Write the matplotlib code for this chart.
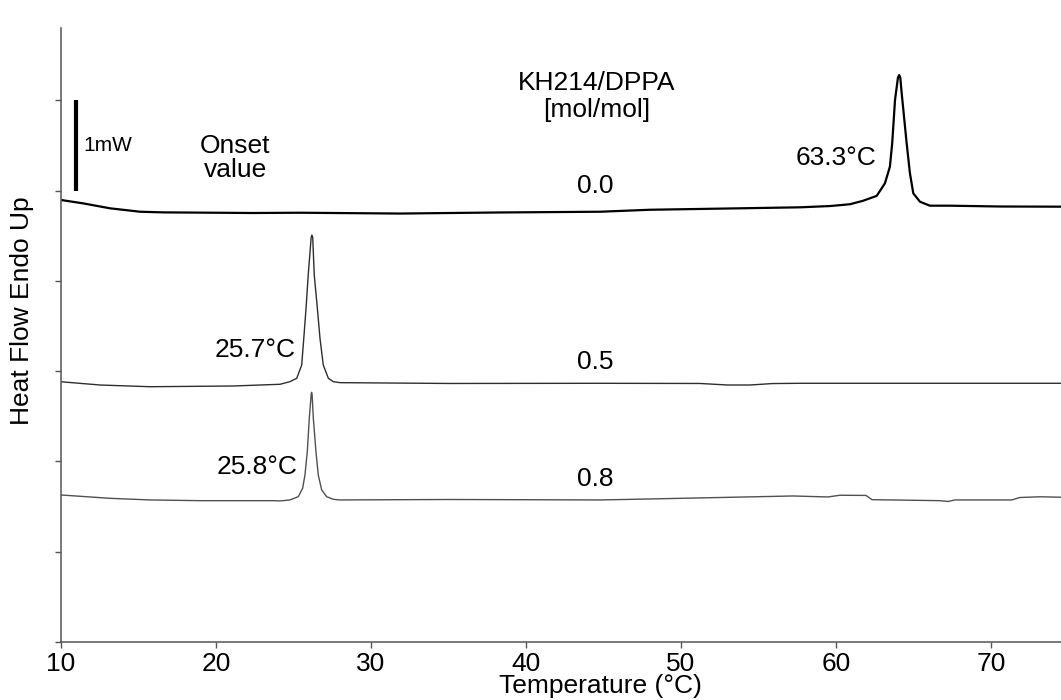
import matplotlib
matplotlib.use("Agg")
import matplotlib.pyplot as plt

plt.rcParams["font.family"] = ["Liberation Sans", "DejaVu Sans"]

# --- DSC traces, KH214/DPPA molar ratio 0.0 / 0.5 / 0.8 ---
temp_00 = [10.00, 11.42, 13.16, 15.10, 16.58, 22.39, 25.42, 31.87, 38.32, 44.77,
           48.00, 53.81, 57.68, 59.61, 60.90, 61.74, 62.63, 63.16, 63.48, 63.63,
           63.81, 64.00, 64.08, 64.15, 64.24, 64.56, 64.77, 64.99, 65.42, 66.06,
           67.35, 70.58, 74.52]
heat_00 = [4.895, 4.858, 4.803, 4.765, 4.758, 4.751, 4.754, 4.745, 4.757, 4.765,
           4.787, 4.803, 4.814, 4.828, 4.848, 4.886, 4.941, 5.080, 5.264, 5.526,
           6.002, 6.250, 6.279, 6.250, 6.080, 5.526, 5.194, 4.969, 4.876, 4.832,
           4.832, 4.823, 4.821]

temp_05 = [10.00, 12.52, 15.74, 21.10, 24.13, 24.77, 25.21, 25.53, 25.68, 25.81,
           25.95, 26.14, 26.19, 26.24, 26.34, 26.54, 26.71, 26.92, 27.25, 27.57,
           28.00, 35.10, 44.77, 51.23, 53.00, 54.45, 55.90, 57.68, 74.52]
heat_05 = [2.882, 2.846, 2.827, 2.835, 2.854, 2.883, 2.920, 3.068, 3.400, 3.695,
           4.064, 4.480, 4.507, 4.480, 4.064, 3.695, 3.363, 3.068, 2.920, 2.883,
           2.872, 2.863, 2.865, 2.863, 2.846, 2.846, 2.862, 2.865, 2.865]

temp_08 = [10.00, 13.16, 15.74, 18.97, 23.68, 24.13, 24.77, 25.31, 25.59, 25.74,
           25.89, 26.02, 26.14, 26.17, 26.20, 26.28, 26.45, 26.60, 26.82, 27.14,
           27.57, 28.00, 35.10, 44.77, 46.90, 57.23, 59.48, 60.26, 61.94, 62.32,
           66.71, 67.23, 67.68, 71.35, 71.87, 73.16, 74.52]
heat_08 = [1.628, 1.591, 1.573, 1.565, 1.565, 1.562, 1.573, 1.609, 1.702, 1.849,
           2.107, 2.477, 2.740, 2.765, 2.740, 2.477, 2.107, 1.849, 1.683, 1.609,
           1.580, 1.573, 1.578, 1.573, 1.580, 1.617, 1.606, 1.625, 1.623, 1.576,
           1.565, 1.556, 1.573, 1.573, 1.600, 1.608, 1.603]

ratio_labels = ["0.0", "0.5", "0.8"]
onset_labels = ["63.3°C", "25.7°C", "25.8°C"]
x_ticks = [10, 20, 30, 40, 50, 60, 70]
y_ticks = [0, 1, 2, 3, 4, 5, 6]
scale_bar_mw = 1.0
scale_bar_base = 5.0

fig = plt.figure(figsize=(10.61, 7.0), dpi=100)
ax = fig.add_axes([0.0575, 0.0829, 0.9425, 0.8771])

ax.plot(temp_00, heat_00, color="black", lw=1.6, solid_joinstyle="round")
ax.plot(temp_05, heat_05, color="#2e2e2e", lw=1.0)
ax.plot(temp_08, heat_08, color="#505050", lw=1.0)

# scale bar
ax.plot([10.97, 10.97], [scale_bar_base, scale_bar_base + scale_bar_mw],
        color="black", lw=3.0, solid_capstyle="butt")
ax.text(11.45, 5.50, "1mW", fontsize=15, ha="left", va="center")

fs = 19
ax.text(21.23, 5.36, "Onset\nvalue", fontsize=fs, ha="center", va="center",
        linespacing=1.05)
ax.text(44.58, 6.04, "KH214/DPPA\n[mol/mol]", fontsize=fs, ha="center",
        va="center", linespacing=1.15)

for lab, ypos in zip(ratio_labels, [5.05, 3.10, 1.805]):
    ax.text(44.5, ypos, lab, fontsize=fs, ha="center", va="center")

for lab, (xpos, ypos) in zip(onset_labels,
                             [(60.0, 5.36), (22.52, 3.234), (22.65, 1.938)]):
    ax.text(xpos, ypos, lab, fontsize=fs, ha="center", va="center")

ax.set_xlim(10, 74.52)
ax.set_ylim(0, 6.8)
ax.set_xticks(x_ticks)
ax.set_yticks(y_ticks)
ax.set_yticklabels([])
ax.tick_params(axis="both", direction="out", length=4, width=1.0,
               color="#555555", labelsize=fs, pad=2)
ax.tick_params(axis="x", pad=3)

for side in ["top", "right"]:
    ax.spines[side].set_visible(False)
for side in ["left", "bottom"]:
    ax.spines[side].set_color("#555555")
    ax.spines[side].set_linewidth(1.1)

fig.text(600 / 1061, 1 - 686 / 700, "Temperature (°C)", fontsize=fs,
         ha="center", va="center")
fig.text(22 / 1061, 1 - 311 / 700, "Heat Flow Endo Up", fontsize=fs,
         ha="center", va="center", rotation=90)

fig.savefig("out.png", dpi=100)
